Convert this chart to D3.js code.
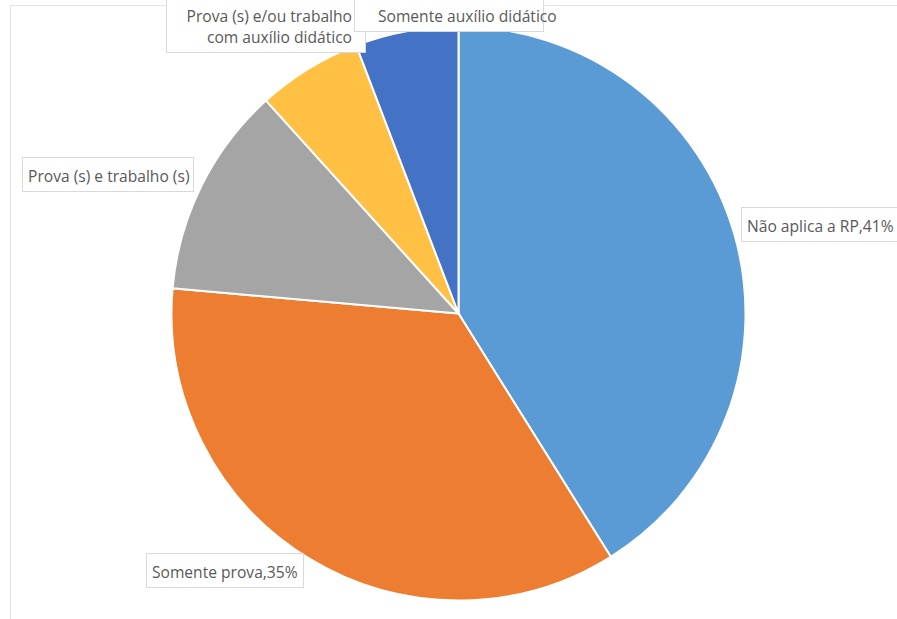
<!DOCTYPE html>
<html>
<head>
<meta charset="utf-8">
<script src="https://cdn.jsdelivr.net/npm/d3@7"></script>
<style>
  html, body { margin: 0; padding: 0; background: #fff; }
  text { font-family: 'Open Sans', sans-serif; font-size: 15.6px; fill: #595959; }
</style>
</head>
<body>
<div id="container"></div>
<script>
const WIDTH = 897;
const HEIGHT = 619;

// data (share of answers, %)
const categories = [
  'Não aplica a RP',
  'Somente prova',
  'Prova (s) e trabalho (s)',
  'Prova (s) e/ou trabalho com auxílio didático',
  'Somente auxílio didático',
];
const values = [41.1, 35.3, 11.9, 5.9, 5.8];
const labelLines = [
  ['Não aplica a RP,41%'],
  ['Somente prova,35%'],
  ['Prova (s) e trabalho (s)'],
  ['Prova (s) e/ou trabalho', 'com auxílio didático'],
  ['Somente auxílio didático'],
];
const colors = ['#5b9bd5', '#ed7d31', '#a5a5a5', '#ffc044', '#4472c4'];

// where Excel dropped the label boxes
const labelBoxes = [
  { x: 741, y: 207, w: 156, align: 'start' },
  { x: 146, y: 553, w: 157, align: 'start' },
  { x: 22, y: 157, w: 171, align: 'start' },
  { x: 166, y: -3, w: 199, align: 'end' },
  { x: 354, y: -3, w: 189, align: 'start', pad: 24 },
];

const cx = 458.5;
const cy = 313.5;
const radius = 287;

const svg = d3
  .select('#container')
  .append('svg')
  .attr('width', WIDTH)
  .attr('height', HEIGHT);

// chart area frame
svg
  .append('rect')
  .attr('x', 10.5)
  .attr('y', 5.5)
  .attr('width', WIDTH + 10)
  .attr('height', HEIGHT + 10)
  .attr('fill', 'none')
  .attr('stroke', '#e4e4e4');

const pie = d3.pie().sort(null).value((d) => d);
const arc = d3.arc().innerRadius(0).outerRadius(radius);

svg
  .append('g')
  .attr('transform', `translate(${cx}, ${cy})`)
  .selectAll('path')
  .data(pie(values))
  .enter()
  .append('path')
  .attr('d', arc)
  .attr('fill', (d, i) => colors[i])
  .attr('stroke', '#fff')
  .attr('stroke-width', 2);

const label = svg
  .append('g')
  .selectAll('g')
  .data(labelLines)
  .enter()
  .append('g')
  .attr('transform', (d, i) => `translate(${labelBoxes[i].x}, ${labelBoxes[i].y})`);

label
  .append('rect')
  .attr('x', 0.5)
  .attr('y', 0.5)
  .attr('width', (d, i) => labelBoxes[i].w)
  .attr('height', (d) => 34 + (d.length - 1) * 21)
  .attr('fill', '#fff')
  .attr('stroke', '#d9d9d9');

label
  .append('text')
  .attr('text-anchor', (d, i) => labelBoxes[i].align)
  .selectAll('tspan')
  .data((d, i) => d.map((line) => ({ line, box: labelBoxes[i] })))
  .enter()
  .append('tspan')
  .attr('x', (d) => (d.box.align === 'end' ? d.box.w - 13 : d.box.pad || 6))
  .attr('y', (d, j) => 25 + j * 21)
  .text((d) => d.line);
</script>
</body>
</html>
